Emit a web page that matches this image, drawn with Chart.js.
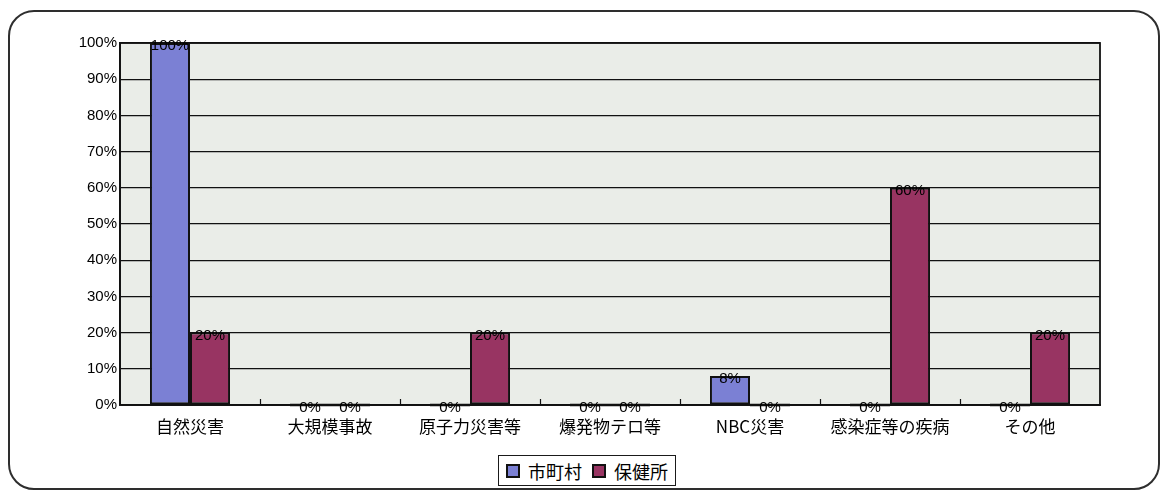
<!DOCTYPE html>
<html>
<head>
<meta charset="utf-8">
<script src="https://cdn.jsdelivr.net/npm/chart.js@4/dist/chart.umd.min.js"></script>
<style>
  html, body { margin: 0; padding: 0; background: #ffffff; }
  #wrap { position: relative; width: 1161px; height: 492px; overflow: hidden; }
  #frame {
    position: absolute; left: 8px; top: 10px; width: 1152px; height: 480px;
    border: 2px solid #2e2e2e; border-radius: 26px; box-sizing: border-box;
  }
  #chart { position: absolute; left: 0; top: 0; }
  #legend {
    position: absolute; left: 498px; top: 455px; height: 31px;
    border: 1.5px solid #1a1a1a; background: #fff; box-sizing: border-box;
    display: flex; align-items: center; padding: 0 7px;
    font-family: "Noto Sans CJK JP", "Noto Sans", sans-serif; font-size: 18px; color: #000;
  }
  .item { display: flex; align-items: center; margin-right: 10px; }
  .item:last-child { margin-right: 0; }
  .swatch { width: 10px; height: 10px; border: 2px solid #111; margin-right: 8px; }
</style>
</head>
<body>
<div id="wrap">
  <div id="frame"></div>
  <canvas id="chart" width="1161" height="492"></canvas>
  <div id="legend"></div>
</div>
<script>
// 災害種別ごとの割合（%）
const categories = ['自然災害', '大規模事故', '原子力災害等', '爆発物テロ等', 'NBC災害', '感染症等の疾病', 'その他'];
const seriesNames = ['市町村', '保健所'];
const cityValues = [100, 0, 0, 0, 8, 0, 0];
const healthCenterValues = [20, 0, 20, 0, 0, 60, 20];
const yTickValues = [0, 10, 20, 30, 40, 50, 60, 70, 80, 90, 100];

const seriesColors = ['#7b80d4', '#983462'];
const numberFont = '15px "Liberation Sans", Arial, sans-serif';

// 背景・枠・内向き目盛・値ラベル
const plotDecor = {
  id: 'plotDecor',
  beforeDraw(chart) {
    const { ctx, chartArea: a } = chart;
    ctx.save();
    ctx.fillStyle = '#eaede8';
    ctx.fillRect(a.left, a.top, a.right - a.left, a.bottom - a.top);
    ctx.restore();
  },
  afterDatasetsDraw(chart) {
    const { ctx, chartArea: a } = chart;
    const xs = chart.scales.x;
    ctx.save();
    // 区切りの目盛（内向き）
    ctx.strokeStyle = '#111';
    ctx.lineWidth = 1.2;
    for (let i = 1; i < categories.length; i++) {
      const bx = Math.round((xs.getPixelForTick(i - 1) + xs.getPixelForTick(i)) / 2) + 0.5;
      ctx.beginPath();
      ctx.moveTo(bx, a.bottom);
      ctx.lineTo(bx, a.bottom - 6);
      ctx.stroke();
    }
    // 値ゼロの棒は基線上の線として描く
    chart.data.datasets.forEach((ds, di) => {
      const meta = chart.getDatasetMeta(di);
      meta.data.forEach((el, i) => {
        if (ds.data[i] === 0) {
          ctx.lineWidth = 2.5;
          ctx.beginPath();
          ctx.moveTo(el.x - el.width / 2, el.base);
          ctx.lineTo(el.x + el.width / 2, el.base);
          ctx.stroke();
        }
      });
    });
    // プロット枠
    ctx.strokeStyle = '#111';
    ctx.lineWidth = 1.8;
    ctx.strokeRect(a.left, a.top, a.right - a.left, a.bottom - a.top);
    // 値ラベル
    ctx.fillStyle = '#000';
    ctx.font = numberFont;
    ctx.textAlign = 'center';
    ctx.textBaseline = 'middle';
    chart.data.datasets.forEach((ds, di) => {
      const meta = chart.getDatasetMeta(di);
      meta.data.forEach((el, i) => {
        ctx.fillText(ds.data[i] + '%', el.x, el.y + 3);
      });
    });
    ctx.restore();
  }
};

const chart = new Chart(document.getElementById('chart'), {
  type: 'bar',
  data: {
    labels: categories,
    datasets: [
      { label: seriesNames[0], data: cityValues, backgroundColor: seriesColors[0] },
      { label: seriesNames[1], data: healthCenterValues, backgroundColor: seriesColors[1] }
    ]
  },
  options: {
    responsive: false,
    animation: false,
    events: [],
    layout: { padding: { left: 0, top: 43, right: 61, bottom: 0 } },
    datasets: {
      bar: {
        categoryPercentage: 0.572,
        barPercentage: 1.0,
        borderColor: '#111',
        borderWidth: 2,
        borderSkipped: false
      }
    },
    plugins: {
      legend: { display: false },
      tooltip: { enabled: false }
    },
    scales: {
      y: {
        min: 0,
        max: 100,
        afterBuildTicks(scale) {
          scale.ticks = yTickValues.map(v => ({ value: v }));
        },
        afterFit(scale) { scale.width = 120; },
        ticks: {
          callback: v => v + '%',
          color: '#000',
          font: { family: '"Liberation Sans", Arial, sans-serif', size: 15 },
          padding: 3
        },
        grid: { color: '#111', lineWidth: 1.3, drawTicks: false },
        border: { display: true, color: '#111', width: 1.8 }
      },
      x: {
        afterFit(scale) { scale.height = 87; },
        ticks: {
          color: '#000',
          font: { family: '"Noto Sans CJK JP", "Noto Sans", sans-serif', size: 17 },
          padding: 3,
          maxRotation: 0,
          autoSkip: false
        },
        grid: { display: false },
        border: { display: true, color: '#111', width: 1.8 }
      }
    }
  },
  plugins: [plotDecor]
});

// 凡例
const legend = document.getElementById('legend');
seriesNames.forEach((name, i) => {
  const item = document.createElement('div');
  item.className = 'item';
  const sw = document.createElement('span');
  sw.className = 'swatch';
  sw.style.background = seriesColors[i];
  const tx = document.createElement('span');
  tx.textContent = name;
  item.appendChild(sw);
  item.appendChild(tx);
  legend.appendChild(item);
});
</script>
</body>
</html>
